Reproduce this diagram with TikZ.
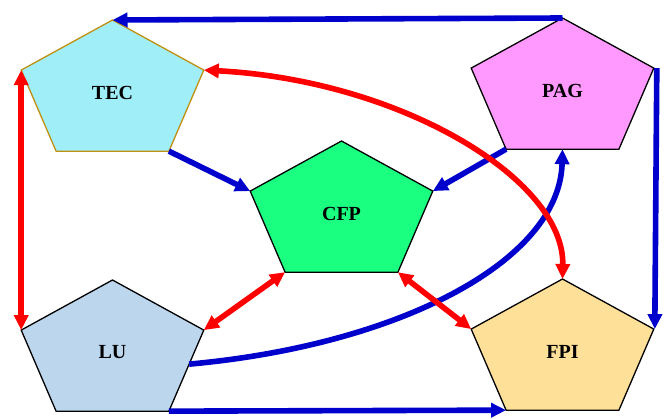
\documentclass[tikz,border=0pt]{standalone}
\usepackage{fontspec}
\setmainfont{Liberation Serif}
\usetikzlibrary{calc}
\usetikzlibrary{arrows.meta}

\definecolor{tecfill}{RGB}{160,238,248}
\definecolor{tecline}{RGB}{192,144,16}
\definecolor{pagfill}{RGB}{255,153,255}
\definecolor{cfpfill}{RGB}{26,255,128}
\definecolor{lufill}{RGB}{188,214,238}
\definecolor{fpifill}{RGB}{255,224,153}
\definecolor{linkblue}{RGB}{0,0,204}
\definecolor{linkred}{RGB}{255,0,0}

% pentagon: name, centre, fill, border, label
\newcommand{\pentagon}[5]{%
  \coordinate (#1-c) at (#2);
  \foreach \ang/\v in {90/t,18/r,-54/br,-126/bl,162/l}
    \coordinate (#1-\v) at ($(#1-c)+(\ang:96 and 72.5)$);
  \filldraw[fill=#3, draw=#4, line width=1.3pt] (#1-t) -- (#1-r) -- (#1-br) -- (#1-bl) -- (#1-l) -- cycle;
  \node[lbl] (#1) at (#1-c) {#5};
}

\begin{document}
\begin{tikzpicture}[x=1pt, y=1pt,
    lbl/.style={font=\fontsize{20}{21}\selectfont\bfseries},
    bluearr/.style={draw=linkblue, line width=5.6pt, -{Triangle[length=15pt,width=14pt]}},
    redarr/.style={draw=linkred, line width=5.6pt, {Triangle[length=15pt,width=14pt]}-{Triangle[length=15pt,width=14pt]}}]
			\useasboundingbox (0,0) rectangle (667,418);

			\pentagon{tec}{112.5,325.5}{tecfill}{tecline}{TEC}
			\pentagon{pag}{562.5,327.5}{pagfill}{black}{PAG}
			\pentagon{cfp}{341.5,204.5}{cfpfill}{black}{CFP}
			\pentagon{lu}{112.5,65.5}{lufill}{black}{LU}
			\pentagon{fpi}{562.5,66.5}{fpifill}{black}{FPI}

			\coordinate (lu-out) at ($(lu-r)!0.42!(lu-br)$);
			\coordinate (pag-in) at ($(pag-bl)!0.5!(pag-br)$);

			\draw[bluearr] (pag-t) -- (tec-t);
			\draw[bluearr] ([xshift=3pt]pag-r) -- ([xshift=1pt]fpi-r);
			\draw[bluearr] (tec-br) -- (cfp-l);
			\draw[bluearr] (pag-bl) -- (cfp-r);
			\draw[bluearr] (lu-br) -- (fpi-bl);
			\draw[bluearr] (lu-out) .. controls +(210,19) and +(-3,-112) .. (pag-in);

			\draw[redarr] (tec-l) -- (lu-l);
			\draw[redarr] (cfp-bl) -- (lu-r);
			\draw[redarr] (cfp-br) -- (fpi-l);
			\draw[redarr] (tec-r) .. controls +(196,-10) and +(2,100) .. (fpi-t);
		\end{tikzpicture}
\end{document}
